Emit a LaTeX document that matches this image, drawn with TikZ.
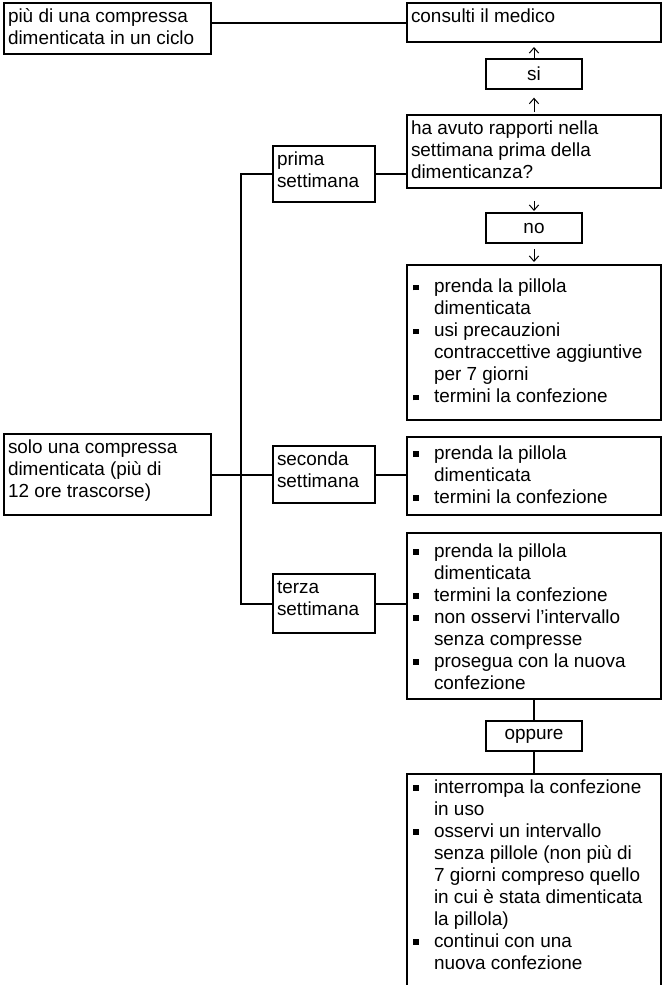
\documentclass[tikz,border=0pt]{standalone}
\usepackage{fontspec}
\setmainfont{Liberation Sans}
\usetikzlibrary{arrows.meta,positioning,calc}
\newlength{\pxu}
\setlength{\pxu}{0.75pt}
\tikzset{
    box/.style  = {draw, line width=1.5pt, anchor=north west, inner sep=0pt},
    tag/.style  = {draw, line width=1.5pt, minimum width=72pt, minimum height=22pt,
            inner sep=0pt},
    link/.style = {line width=1.5pt},
    arr/.style  = {-{Straight Barb[length=4pt,width=7pt]}, line width=0.75pt},
}
\newcommand{\TxtBox}[3]{% w, h, text (px)
    \parbox[c][#2\pxu][t]{#1\pxu}{\vspace*{4\pxu}\raggedright\leftskip=4\pxu\relax
        \rule{0pt}{15\pxu}#3}}
\newcommand{\ListBox}[4][c]{% pos, w, h, items (px)
    \parbox[c][#3\pxu][#1]{#2\pxu}{\raggedright #4}}
\newcommand{\Itm}{\par\hangindent=27\pxu\hangafter=1\noindent
    \makebox[27\pxu][l]{\hspace{6\pxu}\rule[2.5\pxu]{5.5\pxu}{5.5\pxu}}\rule[-4.5\pxu]{0pt}{19.5\pxu}}

\begin{document}
\begin{tikzpicture}[x=0.75pt, y=-0.75pt, font=\fontsize{14.2pt}{16.5pt}\selectfont]
    \path[use as bounding box, fill=white] (0,0) rectangle (661,985);

    % left column
    \node[box] (many) at (3,2) {\TxtBox{207}{51}{più di una compressa\\dimenticata in un ciclo}};
    \node[box] (one) at (3,433) {\TxtBox{207}{81}{solo una compressa\\dimenticata (più di\\12 ore trascorse)}};

    % weeks
    \node[box] (wk1) at (272,145) {\TxtBox{102}{56}{prima\\settimana}};
    \node[box] (wk2) at (272,445) {\TxtBox{102}{57}{seconda\\settimana}};
    \node[box] (wk3) at (272,573) {\TxtBox{102}{59}{terza\\settimana}};

    % right column
    \node[box] (doc) at (406,2) {\TxtBox{254}{39}{consulti il medico}};
    \node[tag] (yes) at (534,74) {si};
    \node[box] (ask) at (406,114) {\TxtBox{254}{73}{ha avuto rapporti nella\\settimana prima della\\dimenticanza?}};
    \node[tag] (no) at (534,228) {no};
    \node[box] (do1) at (406,264) {\ListBox{254}{155}{%
        \Itm prenda la pillola\newline dimenticata
        \Itm usi precauzioni\newline contraccettive aggiuntive\newline per 7 giorni
        \Itm termini la confezione}};
    \node[box] (do2) at (406,436) {\ListBox{254}{78}{%
        \Itm prenda la pillola\newline dimenticata
        \Itm termini la confezione}};
    \node[box] (do3) at (406,532) {\ListBox{254}{166}{%
        \Itm prenda la pillola\newline dimenticata
        \Itm termini la confezione
        \Itm non osservi l’intervallo\newline senza compresse
        \Itm prosegua con la nuova\newline confezione}};
    \node[tag] (or) at (534,736) {oppure};
    \node[box] (do4) at (406,773) {\ListBox[t]{254}{222}{\vspace*{4\pxu}%
        \Itm interrompa la confezione\newline in uso
        \Itm osservi un intervallo\newline senza pillole (non più di\newline
            7 giorni compreso quello\newline in cui è stata dimenticata\newline la pillola)
        \Itm continui con una\newline nuova confezione}};

    % connectors
    \coordinate (trunk) at (241,0);
    \draw[link] (many.east |- doc.west) -- (doc.west);
    \draw[link] (wk1.west) -- (wk1.west -| trunk) -- (wk3.west -| trunk) -- (wk3.west);
    \draw[link] (one.east) -- (wk2.west);
    \draw[link] (wk1.east) -- (wk1.east -| ask.west);
    \draw[link] (wk2.east) -- (wk2.east -| do2.west);
    \draw[link] (wk3.east) -- (wk3.east -| do3.west);
    \draw[link] (do3.south -| or.north) -- (or.north);
    \draw[link] (or.south) -- (or.south |- do4.north);

    % yes / no arrows
    \draw[arr, shorten >=3pt] (yes.north) -- (doc.south);
    \draw[arr, shorten <=1.5pt, shorten >=6pt] (ask.north) -- (yes.south);
    \draw[arr, shorten <=9pt, shorten >=1pt] (ask.south) -- (no.north);
    \draw[arr, shorten <=4pt, shorten >=1.5pt] (no.south) -- (do1.north -| no.south);
\end{tikzpicture}
\end{document}
